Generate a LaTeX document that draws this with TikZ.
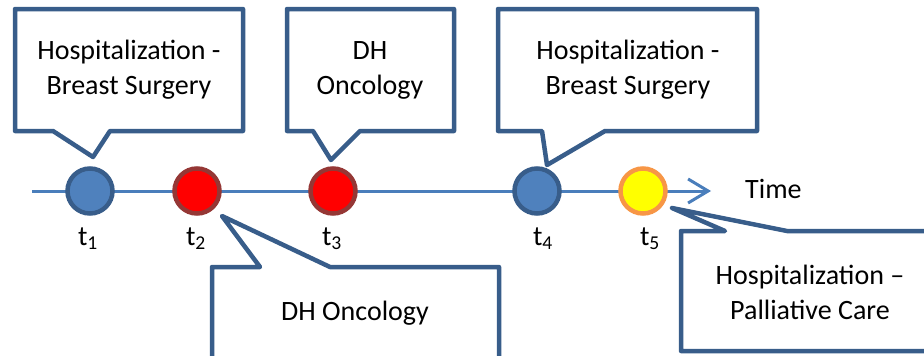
\documentclass[tikz,border=0pt]{standalone}
\definecolor{boxblue}{RGB}{56, 93, 138}
\definecolor{lineblue}{RGB}{74, 126, 187}
\definecolor{evblue}{RGB}{79, 129, 189}
\definecolor{evred}{RGB}{255, 0, 0}
\definecolor{redrim}{RGB}{149, 55, 53}
\definecolor{evyellow}{RGB}{255, 255, 0}
\definecolor{orangerim}{RGB}{247, 150, 70}
\usepackage{fontspec}
\setmainfont{Carlito}
\usetikzlibrary{arrows.meta, positioning}
\tikzset{
  evnode/.style 2 args={circle, draw=#1, fill=#2, minimum size=45pt, inner sep=0pt, line width=4.5pt},
  timeline/.style={draw=lineblue, line width=3pt, -{Straight Barb[length=20pt, width=24pt, line width=3pt]}},
  callbox/.style={draw=boxblue, fill=white, line width=4.5pt, line join=round},
  calltext/.style={font=\fontsize{28}{35}\selectfont, align=center, inner sep=0pt},
  tlabel/.style={font=\fontsize{28}{35}\selectfont, anchor=base, inner sep=0pt},
}

\begin{document}
\begin{tikzpicture}[x=1pt, y=-1pt]
\path[use as bounding box, clip] (0,0) rectangle (924,356);
% time axis
\coordinate (start) at (32,191);
\coordinate (end) at (711,191);
\draw[timeline] (start) -- (end);
\node[tlabel, anchor=base west] (time) at (745,198) {Time};
% events
\node[evnode={boxblue}{evblue}] (t1) at (90,191) {};
\node[evnode={redrim}{evred}] (t2) at (197,191) {};
\node[evnode={redrim}{evred}] (t3) at (333,191) {};
\node[evnode={boxblue}{evblue}] (t4) at (537,191) {};
\node[evnode={orangerim}{evyellow}] (t5) at (643,191) {};
\node[tlabel] (l1) at (88,245) {t\textsubscript{1}};
\node[tlabel] (l2) at (196,245) {t\textsubscript{2}};
\node[tlabel] (l3) at (332,245) {t\textsubscript{3}};
\node[tlabel] (l4) at (543,245) {t\textsubscript{4}};
\node[tlabel] (l5) at (650,245) {t\textsubscript{5}};
% callouts above
\coordinate (p1) at (93,157);
\draw[callbox] (15,9) -- (243,9) -- (243,131) -- (110,131) -- (p1) -- (53,131) -- (15,131) -- cycle;
\node[calltext] (c1) at (129,70) {Hospitalization -\\Breast Surgery};
\coordinate (p2) at (331,160);
\draw[callbox] (287,9) -- (454,9) -- (454,131) -- (360,131) -- (p2) -- (313,131) -- (287,131) -- cycle;
\node[calltext] (c2) at (370,70) {DH\\Oncology};
\coordinate (p3) at (547,165);
\draw[callbox] (498,9) -- (757,9) -- (757,131) -- (605,131) -- (p3) -- (542,131) -- (498,131) -- cycle;
\node[calltext] (c3) at (628,70) {Hospitalization -\\Breast Surgery};
% callouts below
\coordinate (p4) at (222,216);
\draw[callbox] (212,267) -- (260,267) -- (p4) -- (330,267) -- (499,267) -- (499,359) -- (212,359) -- cycle;
\node[calltext] (c4) at (355,313) {DH Oncology};
\coordinate (p5) at (672,208);
\draw[callbox] (681,231) -- (725,231) -- (p5) -- (787,231) -- (939,231) -- (939,351) -- (681,351) -- cycle;
\node[calltext] (c5) at (810,292) {Hospitalization –\\Palliative Care};
\end{tikzpicture}
\end{document}
